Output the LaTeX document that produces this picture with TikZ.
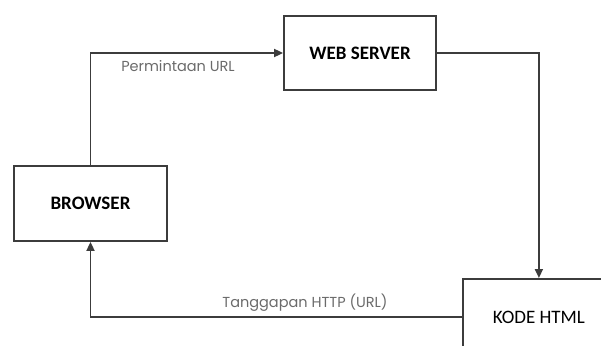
\documentclass[tikz,border=0pt]{standalone}
\usepackage{fontspec}
\setmainfont{Carlito}
\newfontfamily\labelfont{Poppins}
\usetikzlibrary{arrows.meta}
\definecolor{linegray}{HTML}{3C3C3C}
\definecolor{textgray}{HTML}{6A6A6A}
\tikzset{
  box/.style={draw=linegray, line width=1.8pt, rectangle, inner sep=0pt, font=\fontsize{19}{22}\selectfont},
  arr/.style={draw=linegray, line width=1.8pt, -{Triangle[length=9pt,width=8pt]}},
  lbl/.style={text=textgray, font=\labelfont\fontsize{14.5}{17}\selectfont, inner sep=0pt}
}
\begin{document}
\begin{tikzpicture}[x=1pt,y=-1pt]
    \useasboundingbox (0,0) rectangle (601,345);
    \node[box, minimum width=153pt, minimum height=75pt] (browser) at (90.5,203.5) {\textbf{BROWSER}};
    \node[box, minimum width=152pt, minimum height=74pt] (webserver) at (360,53) {\textbf{WEB SERVER}};
    \node[box, minimum width=152pt, minimum height=76pt, anchor=north west] (kode) at (462,278) {KODE HTML};
    \draw[arr] (browser.north) |- (webserver.west);
    \draw[arr] (webserver.east) -| (kode.north);
    \draw[arr] (kode.west) -| (browser.south);
    \node[lbl] (minta) at (178,66) {Permintaan URL};
    \node[lbl] (tanggap) at (305,303) {Tanggapan HTTP (URL)};
\end{tikzpicture}
\end{document}
